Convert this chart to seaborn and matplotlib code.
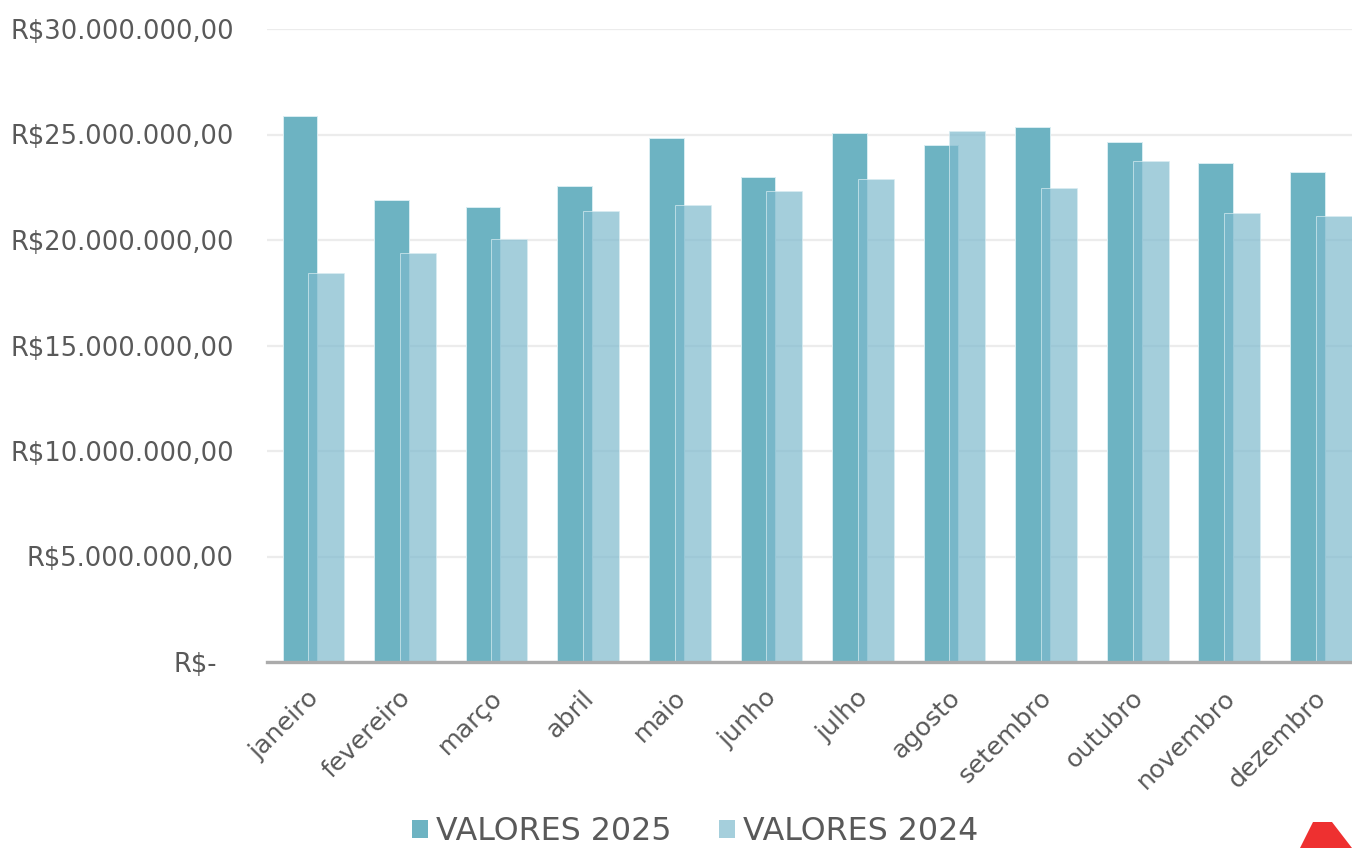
import matplotlib
matplotlib.use("Agg")
import matplotlib.pyplot as plt
import matplotlib.transforms as mtransforms
from matplotlib.patches import Patch, Polygon
import seaborn as sns
import pandas as pd

meses = ["janeiro", "fevereiro", "março", "abril", "maio", "junho",
         "julho", "agosto", "setembro", "outubro", "novembro", "dezembro"]
valores_2025 = [25.88e6, 21.90e6, 21.56e6, 22.56e6, 24.83e6, 22.99e6,
                25.07e6, 24.50e6, 25.36e6, 24.64e6, 23.65e6, 23.22e6]
valores_2024 = [18.44e6, 19.38e6, 20.05e6, 21.37e6, 21.66e6, 22.32e6,
                22.89e6, 25.17e6, 22.46e6, 23.74e6, 21.28e6, 21.14e6]
series = ["VALORES 2025", "VALORES 2024"]
y_ticks = [0, 5e6, 10e6, 15e6, 20e6, 25e6, 30e6]

cor_2025 = "#6db3c2"
cor_2024 = "#7ebacd"
cor_2024_legenda = "#a5cfdc"

df = pd.DataFrame({
    "mes": meses * 2,
    "valor": valores_2025 + valores_2024,
    "serie": [series[0]] * len(meses) + [series[1]] * len(meses),
})

sns.set_theme(style="white")
plt.rcParams["font.family"] = ["DejaVu Sans"]

W, H = 1352, 848
fig = plt.figure(figsize=(W / 100, H / 100), dpi=100)
ax = fig.add_axes([267 / W, 1 - 662 / H, 1099 / W, (662 - 29) / H])

sns.barplot(data=df, x="mes", y="valor", hue="serie", hue_order=series,
            order=meses, palette=[cor_2025, cor_2024], saturation=1,
            width=0.8, dodge=True, legend=False, ax=ax, errorbar=None)

# adjust bars to overlap like the reference (2024 drawn over 2025, translucent)
ajustes = [(+0.06, 0.378, 1.0), (-0.053, 0.393, 0.70)]
for cont, (shift, w, a) in zip(ax.containers, ajustes):
    for p in cont:
        c = p.get_x() + p.get_width() / 2 + shift
        p.set_width(w)
        p.set_x(c - w / 2)
        p.set_alpha(a)
        p.set_edgecolor((0.85, 0.93, 0.95, 0.5))
        p.set_linewidth(0.7)
        p.set_zorder(3 if a < 1 else 2)

ax.set_xlim(-0.5, len(meses) - 0.5)
ax.set_ylim(0, 30e6)
ax.set_yticks(y_ticks)

def fmt(v):
    if v == 0:
        return "R$-"
    s = f"{v:,.2f}".replace(",", "X").replace(".", ",").replace("X", ".")
    return "R$" + s

ax.set_yticklabels([fmt(v) for v in y_ticks])
ax.set_xlabel("")
ax.set_ylabel("")

for s in ["top", "right", "left"]:
    ax.spines[s].set_visible(False)
ax.spines["bottom"].set_color("#ababab")
ax.spines["bottom"].set_linewidth(2.4)
ax.spines["bottom"].set_zorder(5)

ax.yaxis.grid(True, color="#ececec", linewidth=1.6)
ax.xaxis.grid(False)
ax.set_axisbelow(True)

ax.tick_params(axis="y", length=0, pad=24, labelsize=18.5, labelcolor="#595959")
ax.tick_params(axis="x", length=0, pad=17, labelsize=18.3, labelcolor="#595959")
xoff = mtransforms.ScaledTranslation(-6 / 100, 0, fig.dpi_scale_trans)
for lab in ax.get_xticklabels():
    lab.set_rotation(45)
    lab.set_ha("right")
    lab.set_va("top")
    lab.set_rotation_mode("anchor")
    lab.set_transform(lab.get_transform() + xoff)

# shift "R$-" label left like the accounting format
lbl0 = ax.get_yticklabels()[0]
lbl0.set_transform(lbl0.get_transform() +
                   mtransforms.ScaledTranslation(-17 / 100, 0, fig.dpi_scale_trans))

handles = [Patch(facecolor=cor_2025, edgecolor="none"),
           Patch(facecolor=cor_2024_legenda, edgecolor="none")]
leg = fig.legend(handles, series, loc="center", ncol=2, frameon=False,
                 bbox_to_anchor=(695 / W, 1 - 832 / H),
                 bbox_transform=fig.transFigure, fontsize=22.8,
                 handlelength=0.5, handleheight=0.5, handletextpad=0.26,
                 columnspacing=1.5, borderpad=0.1)
for t in leg.get_texts():
    t.set_color("#595959")

# red logo fragment in the corner
logo = Polygon([(1313 / W, 1 - 822 / H), (1332 / W, 1 - 822 / H),
                (1352 / W, 1 - 848 / H), (1300 / W, 1 - 848 / H)],
               closed=True, transform=fig.transFigure, facecolor="#ee3030",
               edgecolor="none")
fig.patches.append(logo)

fig.savefig("out.png", dpi=100)
